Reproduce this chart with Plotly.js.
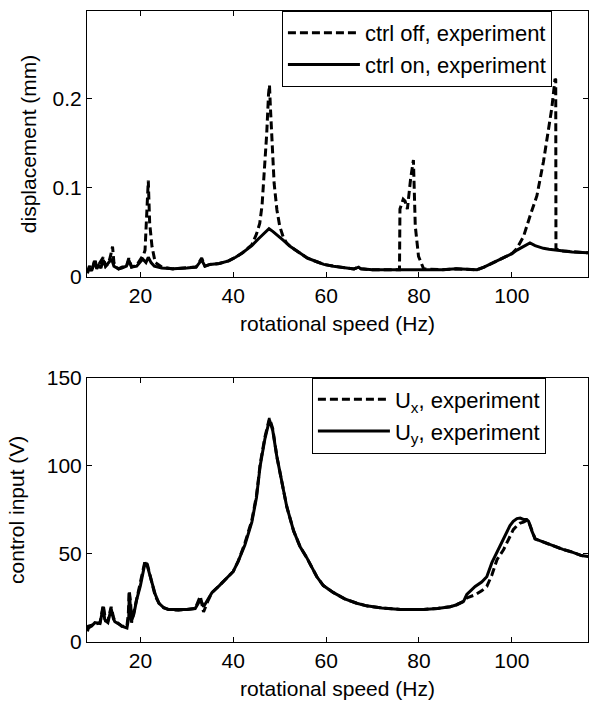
<!DOCTYPE html>
<html>
<head>
<meta charset="utf-8">
<script src="https://cdn.plot.ly/plotly-3.0.1.min.js"></script>
<style>html,body{margin:0;padding:0;background:#fff;}#chart{width:589px;height:702px;}</style>
</head>
<body>
<div id="chart"></div>
<script>
// ---- Top panel: displacement (mm) vs rotational speed (Hz) ----
const offX = [8.6,9.0,9.6,10.2,10.6,11.2,12.0,12.5,13.1,13.5,14.0,14.3,14.8,15.3,16.0,17.0,17.5,18.1,19.2,20.3,20.7,21.0,21.4,21.7,22.0,22.5,23.2,24.6,27,30,32,33.2,33.9,35,37,39,40.5,42,44,45.0,45.7,46.2,46.7,47.2,47.6,47.8,48.0,48.4,48.8,49.4,50.0,50.8,51.5,52.3,54.4,56,58,59.5,61.6,64,66,67,67.5,70,75.8,75.9,76.6,77.0,77.5,78.2,78.8,79.2,79.9,81.0,85,88,92.5,94,96,98.2,100,101.1,102.5,103.9,105.4,106.8,107.9,108.6,109.3,109.45,109.5,110,111,113,116.4];
const offY = [0.005,0.012,0.008,0.020,0.010,0.015,0.022,0.012,0.015,0.022,0.034,0.016,0.011,0.009,0.011,0.012,0.021,0.011,0.013,0.022,0.025,0.030,0.070,0.108,0.060,0.034,0.016,0.011,0.009,0.010,0.011,0.021,0.012,0.014,0.015,0.018,0.022,0.027,0.036,0.048,0.060,0.080,0.115,0.160,0.205,0.215,0.190,0.140,0.105,0.075,0.057,0.044,0.038,0.034,0.027,0.021,0.017,0.014,0.012,0.010,0.009,0.011,0.009,0.008,0.008,0.076,0.087,0.085,0.076,0.110,0.131,0.057,0.023,0.009,0.008,0.009,0.008,0.011,0.016,0.021,0.026,0.032,0.045,0.068,0.091,0.129,0.167,0.189,0.222,0.221,0.032,0.030,0.029,0.028,0.027];

const onX = [8.6,9.0,9.5,10.2,10.6,11.0,11.5,12.0,12.5,13.1,13.8,14.3,15.3,16.0,17.0,17.5,18.1,19.2,20.5,21.2,21.7,22.3,23.0,24.6,27,30,32,33.2,33.9,35,37,39,40.5,42,44,45.5,46.8,47.7,48.5,49.5,50.8,52.3,54.4,56,58,59.5,61.6,64,66,67,67.5,70,75,78,80,85,88,92.5,94,96,98.2,100,101.1,102.5,103.9,105,106.8,108,109.7,111,113,116.4];
const onY = [0.004,0.010,0.007,0.018,0.009,0.013,0.010,0.019,0.012,0.016,0.020,0.012,0.009,0.010,0.012,0.019,0.011,0.012,0.020,0.016,0.022,0.016,0.012,0.010,0.009,0.010,0.011,0.019,0.012,0.014,0.015,0.018,0.022,0.027,0.035,0.043,0.050,0.054,0.051,0.047,0.041,0.034,0.027,0.021,0.017,0.014,0.012,0.010,0.009,0.011,0.009,0.008,0.008,0.008,0.0085,0.008,0.009,0.008,0.011,0.016,0.021,0.026,0.030,0.034,0.038,0.035,0.032,0.031,0.030,0.029,0.028,0.027];

// ---- Bottom panel: control input (V) vs rotational speed (Hz) ----
const uxX = [8.6,8.8,9.5,10.2,11.3,12.0,12.3,12.5,13.0,13.7,14.2,14.5,15.5,16.0,17.1,17.4,17.6,17.9,18.1,18.6,19.2,20.0,21.0,21.5,22.0,23.2,24,25,26,28.2,30,31.8,32.9,33.3,33.6,34.5,35.4,37,38.2,40,41.1,42.5,44,45,45.8,46.8,47.8,48.5,49.4,50.5,51.5,53,54.4,55.8,58,59.4,61.6,64,66.6,68.7,72,76,81,84,86.7,88,89.6,90.3,92.1,93.5,94.6,95.7,96.8,98.2,99.6,100.3,101.1,101.8,102.5,103.2,103.6,104.3,105,106,107.5,109,111,113,115,116.4];
const uxY = [7,9,9.5,10,11,21,14,12,12,20,14,12,10,9,9,16,29,22,11,17,23,33,46,44,39,26,22,19.5,18.5,18,18.5,19,26,20,17,23,28,32,35,40,46,56,69,83,101,116,127,121,105,90,77,63,54,48,37,32,28,24.5,22,20.5,19.3,18.5,18.5,19,20,21,23,25,26.8,29,31.5,38,46.7,52.3,60,63.7,66,67.5,68,69,68.5,63,58.5,57.5,56,54.2,52.5,51,49,48.5];

const uyX = [8.6,8.8,9.5,10.2,11.3,12.0,12.3,12.5,13.0,13.7,14.2,14.5,15.5,16.0,17.1,17.5,17.6,17.9,18.1,18.6,19.2,20.0,21.0,21.5,22.0,23.2,24,25,26,28.2,30,31.8,32.9,33.3,33.6,34.5,35.4,37,38.2,40,41.1,42.5,44,45,45.8,46.8,47.8,48.5,49.4,50.5,51.5,53,54.4,55.8,58,59.4,61.6,64,66.6,68.7,72,76,81,84,86.7,88,89.6,90.3,92.1,93.5,94.6,95.7,96.8,98.2,99.6,100.3,101.1,101.8,102.5,103.2,103.6,104.3,105,106,107.5,109,111,113,115,116.4];
const uyY = [6,8,9,11,10.5,20,13,12,11,19,13,11.5,10,9,8,14,28,20,12,16,24,32,45,43,38,27,22,19.5,18.5,18.3,18.5,19,24,22,20,24,28,32,35,40,46,55,68,82,100,115,126,120,105,90,77,63,54,48,37,32,28,24.5,22,20.5,19.3,18.5,18.5,19,20,21,23,27,31.5,34,37,45,51,58,66,68.4,70,70.3,69.5,69.5,68.5,63,58.5,57.5,56,54.2,52.5,51,49,48.5];

const xTicks = [20,40,60,80,100];
const topYTicks = [0,0.1,0.2];
const botYTicks = [0,50,100,150];

const FONT = 'Liberation Sans, Arial, Helvetica, sans-serif';
const FS = 21;
const dashStyle = '8px,4px';

const traces = [
  {x: offX, y: offY, xaxis:'x', yaxis:'y', type:'scatter', mode:'lines', name:'ctrl off, experiment',
   line:{color:'#000', width:3, dash:dashStyle}, legend:'legend'},
  {x: onX, y: onY, xaxis:'x', yaxis:'y', type:'scatter', mode:'lines', name:'ctrl on, experiment',
   line:{color:'#000', width:3}, legend:'legend'},
  {x: uxX, y: uxY, xaxis:'x2', yaxis:'y2', type:'scatter', mode:'lines', name:'U<sub>x</sub>, experiment',
   line:{color:'#000', width:3, dash:dashStyle}, legend:'legend2'},
  {x: uyX, y: uyY, xaxis:'x2', yaxis:'y2', type:'scatter', mode:'lines', name:'U<sub>y</sub>, experiment',
   line:{color:'#000', width:3}, legend:'legend2'}
];

const axBase = {
  showline:true, linecolor:'#000', linewidth:1, mirror:'ticks',
  ticks:'inside', ticklen:5, tickcolor:'#000', tickwidth:1,
  showgrid:false, zeroline:false, automargin:false,
  tickfont:{family:FONT, size:FS, color:'#000'}
};

const legBase = {
  bgcolor:'#fff', bordercolor:'#000', borderwidth:1,
  font:{family:FONT, size:22, color:'#000'},
  xanchor:'right', yanchor:'top', tracegroupgap:0, itemwidth:72
};

const layout = {
  width:589, height:702,
  margin:{l:87, r:1, t:11, b:60},
  paper_bgcolor:'#fff', plot_bgcolor:'#fff',
  font:{family:FONT, size:FS, color:'#000'},
  showlegend:true,
  xaxis: Object.assign({}, axBase, {domain:[0,1], anchor:'y', range:[8.5,116.4], tickvals:xTicks,
    title:{text:'rotational speed (Hz)', font:{family:FONT, size:FS, color:'#000'}, standoff:10}}),
  yaxis: Object.assign({}, axBase, {domain:[0.5786,1], anchor:'x', range:[0,0.298], tickvals:topYTicks, ticktext:['0','0.1','0.2'],
    title:{text:'displacement (mm)', font:{family:FONT, size:FS, color:'#000'}, standoff:10}}),
  xaxis2: Object.assign({}, axBase, {domain:[0,1], anchor:'y2', range:[8.5,116.4], tickvals:xTicks,
    title:{text:'rotational speed (Hz)', font:{family:FONT, size:FS, color:'#000'}, standoff:10}}),
  yaxis2: Object.assign({}, axBase, {domain:[0,0.4191], anchor:'x2', range:[0,150], tickvals:botYTicks,
    title:{text:'control input (V)', font:{family:FONT, size:FS, color:'#000'}, standoff:16}}),
  legend: Object.assign({}, legBase, {x:0.928, y:1}),
  legend2: Object.assign({}, legBase, {x:0.916, y:0.4191})
};

Plotly.newPlot('chart', traces, layout, {displayModeBar:false, staticPlot:true});
</script>
</body>
</html>
